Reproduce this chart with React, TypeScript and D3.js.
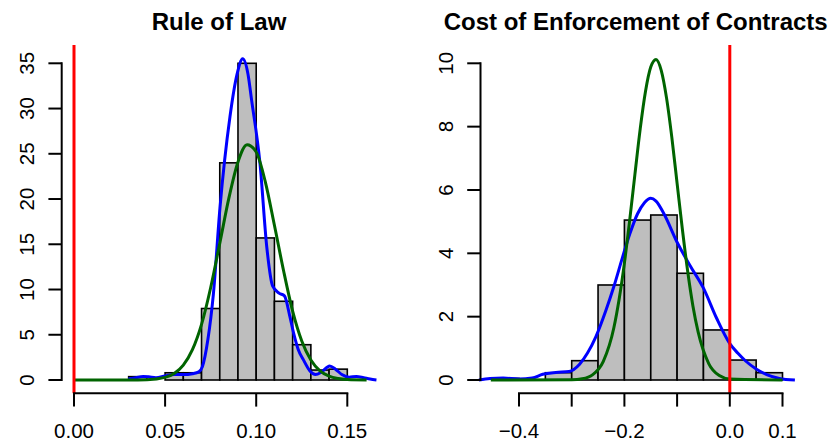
import React from "react";
import * as d3 from "d3";

// ---------- Rule of Law panel ----------
const ruleBinStarts = [0.03, 0.04, 0.05, 0.06, 0.07, 0.08, 0.09, 0.10, 0.11, 0.12, 0.13, 0.14];
const ruleDensity = [0.37, 0, 0.8, 0.8, 7.9, 24.0, 35.0, 15.7, 8.7, 3.9, 1.1, 1.2];
const ruleBinWidth = 0.01;

// kernel density estimate (blue)
const ruleKdeX = [0.0298, 0.034, 0.038, 0.041, 0.045, 0.05, 0.055, 0.06, 0.065, 0.0685, 0.0705, 0.0735, 0.0765, 0.0801, 0.0856, 0.0895, 0.0926, 0.0955, 0.0975, 0.1021, 0.1058, 0.109, 0.1125, 0.1155, 0.1185, 0.1205, 0.123, 0.126, 0.1295, 0.1325, 0.136, 0.1403, 0.1435, 0.147, 0.151, 0.155, 0.159, 0.1625, 0.166];
const ruleKdeY = [0.1, 0.25, 0.4, 0.35, 0.25, 0.45, 0.6, 0.6, 0.7, 0.9, 1.5, 4.5, 9.5, 19.0, 29.1, 33.8, 35.5, 33.8, 30.9, 23.9, 14.7, 10.4, 9.6, 9.3, 7.0, 5.2, 3.4, 2.2, 1.0, 0.6, 0.9, 1.55, 1.2, 0.6, 0.3, 0.4, 0.25, 0.1, 0];

// fitted normal (green)
const ruleNormX = [0, 0.03, 0.04, 0.05, 0.055, 0.06, 0.065, 0.07, 0.075, 0.08, 0.085, 0.09, 0.095, 0.10, 0.105, 0.11, 0.115, 0.12, 0.125, 0.13, 0.135, 0.14, 0.145, 0.15, 0.1606];
const ruleNormY = [0, 0, 0.03, 0.29, 0.72, 1.64, 3.35, 6.15, 10.2, 15.1, 20.1, 24.1, 26.0, 25.2, 21.9, 17.1, 12.1, 7.6, 4.3, 2.2, 1.0, 0.42, 0.16, 0.05, 0];

const ruleXTicks = [0, 0.05, 0.1, 0.15];
const ruleXLabels = ["0.00", "0.05", "0.10", "0.15"];
const ruleYTicks = [0, 5, 10, 15, 20, 25, 30, 35];
const ruleRef = 0;

// ---------- Cost of Enforcement of Contracts panel ----------
const costBinStarts = [-0.45, -0.40, -0.35, -0.30, -0.25, -0.20, -0.15, -0.10, -0.05, 0, 0.05];
const costDensity = [0.05, 0, 0.23, 0.61, 3.0, 5.05, 5.21, 3.37, 1.58, 0.63, 0.23];
const costBinWidth = 0.05;

const costKdeX = [-0.476, -0.455, -0.43, -0.40, -0.375, -0.355, -0.33, -0.305, -0.285, -0.27, -0.254, -0.235, -0.22, -0.204, -0.19, -0.175, -0.162, -0.15, -0.14, -0.125, -0.1, -0.075, -0.05, -0.025, 0, 0.015, 0.03, 0.05, 0.07, 0.094, 0.1235];
const costKdeY = [0, 0.05, 0.06, 0.03, 0.06, 0.18, 0.24, 0.27, 0.5, 0.85, 1.37, 2.2, 2.95, 3.85, 4.6, 5.25, 5.6, 5.74, 5.65, 5.25, 4.35, 3.6, 2.9, 1.95, 1.15, 0.85, 0.6, 0.35, 0.17, 0.05, 0];

const costNormX = [-0.4535, -0.30, -0.28, -0.26, -0.24, -0.22, -0.21, -0.20, -0.19, -0.18, -0.17, -0.16, -0.15, -0.14, -0.13, -0.12, -0.11, -0.10, -0.09, -0.08, -0.07, -0.06, -0.04, -0.02, 0, 0.1];
const costNormY = [0, 0.01, 0.04, 0.17, 0.59, 1.65, 2.55, 3.69, 5.04, 6.5, 7.93, 9.11, 9.88, 10.12, 9.77, 8.9, 7.66, 6.21, 4.76, 3.44, 2.34, 1.51, 0.52, 0.14, 0.03, 0];

const costXTicks = [-0.4, -0.3, -0.2, -0.1, 0, 0.1];
const costXLabels = ["\u22120.4", "", "\u22120.2", "", "0.0", "0.1"];
const costYTicks = [0, 2, 4, 6, 8, 10];
const costRef = 0;

const FONT = "'Liberation Sans', Arial, Helvetica, sans-serif";
const AXIS_Y = 393.3;
const PLOT_TOP = 45;
const TICK = 13.3;

type PanelProps = {
  title: string;
  titleX: number;
  x: d3.ScaleLinear<number, number>;
  y: d3.ScaleLinear<number, number>;
  axisX: number;
  binStarts: number[];
  density: number[];
  binWidth: number;
  kdeX: number[];
  kdeY: number[];
  normX: number[];
  normY: number[];
  xTicks: number[];
  xLabels: string[];
  yTicks: number[];
  refX: number;
};

function Panel(p: PanelProps) {
  const line = d3
    .line<[number, number]>()
    .x((d) => p.x(d[0]))
    .y((d) => p.y(d[1]))
    .curve(d3.curveMonotoneX);
  const kde = line(p.kdeX.map((v, i) => [v, p.kdeY[i]] as [number, number])) || "";
  const norm = line(p.normX.map((v, i) => [v, p.normY[i]] as [number, number])) || "";
  const y0 = p.y(0);
  const xFirst = p.x(p.xTicks[0]);
  const xLast = p.x(p.xTicks[p.xTicks.length - 1]);
  const yFirst = p.y(p.yTicks[0]);
  const yLast = p.y(p.yTicks[p.yTicks.length - 1]);

  return (
    <g>
      <text
        x={p.titleX}
        y={30}
        textAnchor="middle"
        fontFamily={FONT}
        fontWeight="bold"
        fontSize={24}
        fill="#000"
      >
        {p.title}
      </text>

      {/* histogram bars */}
      {p.binStarts.map((b, i) => {
        const x0 = p.x(b);
        const x1 = p.x(b + p.binWidth);
        const yt = p.y(p.density[i]);
        return (
          <rect
            key={i}
            x={x0}
            y={yt}
            width={x1 - x0}
            height={y0 - yt}
            fill="#bebebe"
            stroke="#000"
            strokeWidth={1.6}
          />
        );
      })}

      <path d={kde} fill="none" stroke="#0000ff" strokeWidth={3} />
      <path d={norm} fill="none" stroke="#006400" strokeWidth={3} />

      <line
        x1={p.x(p.refX)}
        x2={p.x(p.refX)}
        y1={PLOT_TOP}
        y2={AXIS_Y}
        stroke="#ff0000"
        strokeWidth={3}
      />

      {/* x axis */}
      <g stroke="#000" strokeWidth={2} fill="none">
        <line x1={xFirst} x2={xLast} y1={AXIS_Y} y2={AXIS_Y} strokeLinecap="square" />
        {p.xTicks.map((t, i) => (
          <line key={i} x1={p.x(t)} x2={p.x(t)} y1={AXIS_Y} y2={AXIS_Y + TICK} />
        ))}
      </g>
      {p.xTicks.map((t, i) => (
        <text
          key={i}
          x={p.x(t)}
          y={438}
          textAnchor="middle"
          fontFamily={FONT}
          fontSize={20.5}
          fill="#000"
        >
          {p.xLabels[i]}
        </text>
      ))}

      {/* y axis */}
      <g stroke="#000" strokeWidth={2} fill="none">
        <line x1={p.axisX} x2={p.axisX} y1={yFirst} y2={yLast} strokeLinecap="square" />
        {p.yTicks.map((t, i) => (
          <line key={i} x1={p.axisX - TICK} x2={p.axisX} y1={p.y(t)} y2={p.y(t)} />
        ))}
      </g>
      {p.yTicks.map((t, i) => (
        <text
          key={i}
          transform={`translate(${p.axisX - 28},${p.y(t)}) rotate(-90)`}
          textAnchor="middle"
          fontFamily={FONT}
          fontSize={20.5}
          fill="#000"
        >
          {String(t)}
        </text>
      ))}
    </g>
  );
}

export default function App() {
  const ruleX = d3.scaleLinear().domain([0, 0.15]).range([74, 347.3]);
  const ruleY = d3.scaleLinear().domain([0, 35]).range([380, 63.3]);
  const costX = d3.scaleLinear().domain([-0.4, 0.1]).range([519, 782.5]);
  const costY = d3.scaleLinear().domain([0, 10]).range([380, 63.3]);

  return (
    <svg
      width={839}
      height={445}
      viewBox="0 0 839 445"
      style={{ position: "absolute", left: 0, top: 0, background: "#fff" }}
    >
      <rect x={0} y={0} width={839} height={445} fill="#fff" />
      <Panel
        title="Rule of Law"
        titleX={219}
        x={ruleX}
        y={ruleY}
        axisX={61.7}
        binStarts={ruleBinStarts}
        density={ruleDensity}
        binWidth={ruleBinWidth}
        kdeX={ruleKdeX}
        kdeY={ruleKdeY}
        normX={ruleNormX}
        normY={ruleNormY}
        xTicks={ruleXTicks}
        xLabels={ruleXLabels}
        yTicks={ruleYTicks}
        refX={ruleRef}
      />
      <Panel
        title="Cost of Enforcement of Contracts"
        titleX={635.7}
        x={costX}
        y={costY}
        axisX={480.5}
        binStarts={costBinStarts}
        density={costDensity}
        binWidth={costBinWidth}
        kdeX={costKdeX}
        kdeY={costKdeY}
        normX={costNormX}
        normY={costNormY}
        xTicks={costXTicks}
        xLabels={costXLabels}
        yTicks={costYTicks}
        refX={costRef}
      />
    </svg>
  );
}
